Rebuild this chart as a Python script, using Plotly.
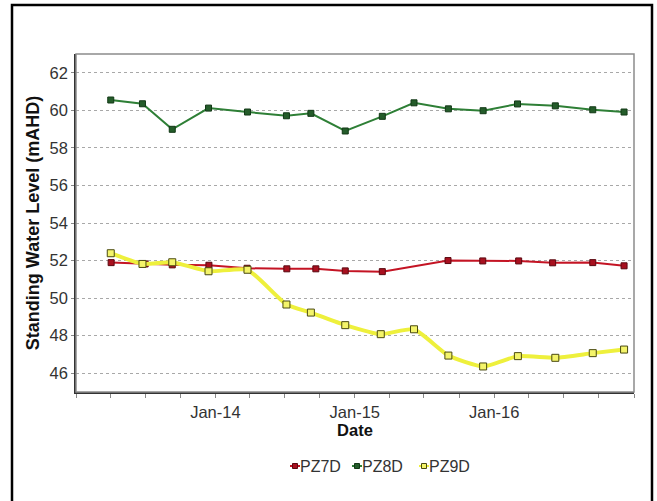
import plotly.graph_objects as go

# Monitoring dates and standing water levels (mAHD)
dates_pz7d = ["2013-04-03", "2013-07-01", "2013-09-10", "2013-12-15", "2014-03-25",
              "2014-07-07", "2014-09-21", "2014-12-07", "2015-03-14", "2015-09-02",
              "2015-12-02", "2016-03-05", "2016-06-02", "2016-09-15", "2016-12-06"]
level_pz7d = [51.89, 51.82, 51.77, 51.75, 51.59, 51.56, 51.56, 51.45, 51.41, 52.0,
              51.98, 51.98, 51.88, 51.89, 51.72]

dates_pz8d = ["2013-04-02", "2013-06-24", "2013-09-10", "2013-12-14", "2014-03-26",
              "2014-07-06", "2014-09-08", "2014-12-07", "2015-03-14", "2015-06-05",
              "2015-09-03", "2015-12-03", "2016-03-02", "2016-06-09", "2016-09-15",
              "2016-12-06"]
level_pz8d = [60.55, 60.35, 58.99, 60.12, 59.91, 59.71, 59.84, 58.90, 59.68, 60.40,
              60.08, 59.98, 60.34, 60.24, 60.03, 59.91]

dates_pz9d = ["2013-04-02", "2013-06-24", "2013-09-10", "2013-12-14", "2014-03-26",
              "2014-07-06", "2014-09-08", "2014-12-07", "2015-03-10", "2015-06-05",
              "2015-09-03", "2015-12-03", "2016-03-03", "2016-06-09", "2016-09-15",
              "2016-12-06"]
level_pz9d = [52.39, 51.82, 51.91, 51.43, 51.51, 49.66, 49.23, 48.56, 48.08, 48.34,
              46.94, 46.36, 46.91, 46.82, 47.07, 47.26]

year_ticks = ["2014-01-01", "2015-01-01", "2016-01-01"]
year_labels = ["Jan-14", "Jan-15", "Jan-16"]
y_ticks = [46, 48, 50, 52, 54, 56, 58, 60, 62]

series_names = ["PZ7D", "PZ8D", "PZ9D"]
line_colors = ["#c41424", "#2e7f36", "#eef03c"]
marker_fills = ["#a8101f", "#245c2a", "#f4f46a"]
marker_edges = ["#5a0810", "#123816", "#4a4a10"]

FONT = "Arial, Liberation Sans, sans-serif"

# Plot-area pixel box used to place the key in paper coordinates
L, R, T, B = 76, 634, 54, 392


def px_x(p):
    return (p - L) / (R - L)


def px_y(p):
    return (B - p) / (B - T)


fig = go.Figure()
series = [(dates_pz7d, level_pz7d), (dates_pz8d, level_pz8d), (dates_pz9d, level_pz9d)]
for i, (xs, ys) in enumerate(series):
    line = dict(color=line_colors[i], width=2)
    size = 6
    if series_names[i] == "PZ9D":
        line = dict(color=line_colors[i], width=4, shape="spline", smoothing=0.5)
        size = 7
    fig.add_trace(go.Scatter(
        x=xs, y=ys, name=series_names[i], mode="lines+markers", line=line,
        marker=dict(symbol="square", size=size, color=marker_fills[i],
                    line=dict(color=marker_edges[i], width=1)),
        showlegend=False,
    ))

# Compact key below the axis: short stub, square marker, then the series name
key_marker_px = [295, 357, 424]
key_text_px = [300, 362, 429]
key_y = px_y(466)
for i, name in enumerate(series_names):
    xa = px_x(key_marker_px[i])
    fig.add_shape(type="line", xref="paper", yref="paper", xsizemode="pixel",
                  xanchor=xa, x0=-5, x1=5, y0=key_y, y1=key_y,
                  line=dict(color=line_colors[i], width=2))
    fig.add_shape(type="rect", xref="paper", yref="paper",
                  xsizemode="pixel", ysizemode="pixel",
                  xanchor=xa, yanchor=key_y, x0=-2.5, x1=2.5, y0=-2.5, y1=2.5,
                  fillcolor=marker_fills[i], line=dict(color=marker_edges[i], width=1))
    fig.add_annotation(xref="paper", yref="paper", x=px_x(key_text_px[i]), y=key_y,
                       text=name, showarrow=False, xanchor="left", yanchor="middle",
                       xshift=-2, font=dict(family=FONT, size=16, color="#333333"))

# Plot-area border (top/right lighter) and outer black frame
fig.add_shape(type="rect", xref="paper", yref="paper", x0=0, x1=1, y0=0, y1=1,
              line=dict(color="#8c8c8c", width=1.5), layer="above")
fig.add_shape(type="rect", xref="paper", yref="paper",
              x0=px_x(12), x1=px_x(652), y0=px_y(515), y1=px_y(5),
              line=dict(color="#000000", width=2.5))

fig.update_layout(
    width=657, height=501,
    margin=dict(l=L, r=657 - R, t=T, b=501 - B),
    paper_bgcolor="white", plot_bgcolor="white",
    font=dict(family=FONT, size=16.5, color="#333333"),
    showlegend=False,
    xaxis=dict(
        type="date", range=["2013-01-01", "2017-01-01"],
        tickmode="array", tickvals=year_ticks, ticktext=year_labels,
        ticks="outside", ticklen=4, tickcolor="#888888",
        minor=dict(dtick="M3", tick0="2013-01-01", ticks="outside", ticklen=4,
                   tickcolor="#888888", showgrid=False),
        showgrid=False, showline=True, linecolor="#333333", linewidth=1.5,
        zeroline=False,
        title=dict(text="<b>Date</b>", font=dict(size=16.5, color="#111111"),
                   standoff=4),
    ),
    yaxis=dict(
        range=[45, 63], tickmode="array", tickvals=y_ticks,
        showgrid=True, gridcolor="#a8a8a8", griddash="dot", gridwidth=1,
        showline=True, linecolor="#333333", linewidth=1.5, zeroline=False,
        ticks="outside", ticklen=3, tickcolor="#888888",
        title=dict(text="<b>Standing Water Level (mAHD)</b>",
                   font=dict(size=18, color="#111111"), standoff=5),
    ),
)

fig.write_html("out.html")
